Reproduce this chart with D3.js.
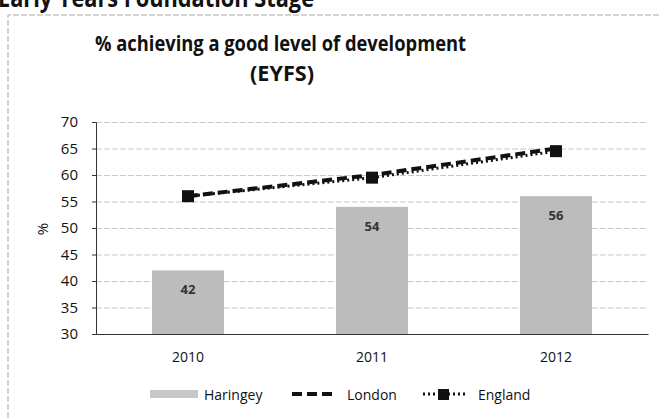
<!DOCTYPE html>
<html>
<head>
<meta charset="utf-8">
<script src="https://cdn.jsdelivr.net/npm/d3@7.9.0/dist/d3.min.js"></script>
<style>
  body { margin: 0; background: #fff; }
  svg { display: block; font-family: "Open Sans", "DejaVu Sans", sans-serif; }
</style>
</head>
<body>
<div id="chart"></div>
<script>
const years = ["2010", "2011", "2012"];
const haringey = [42, 54, 56];
const london = [56, 60, 65];
const england = [56, 59.5, 64.5];
const yTicks = [30, 35, 40, 45, 50, 55, 60, 65, 70];

const width = 661;
const height = 418;
const plot = { left: 96, right: 648, top: 122, bottom: 334 };

const svg = d3.select("#chart")
  .append("svg")
  .attr("width", width)
  .attr("height", height);

// page heading, cut off at the top of the scan
svg.append("text")
  .attr("x", -2)
  .attr("y", 7)
  .attr("font-size", 25)
  .attr("font-weight", "bold")
  .attr("fill", "#111")
  .attr("textLength", 316)
  .attr("lengthAdjust", "spacingAndGlyphs")
  .text("Early Years Foundation Stage");

// chart frame
svg.append("path")
  .attr("d", `M8,${height} V15 H${width}`)
  .attr("fill", "none")
  .attr("stroke", "#aaa")
  .attr("stroke-dasharray", "6,2");

svg.append("text")
  .attr("x", 95)
  .attr("y", 51)
  .attr("font-size", 21)
  .attr("font-weight", "bold")
  .attr("fill", "#111")
  .attr("textLength", 371)
  .attr("lengthAdjust", "spacingAndGlyphs")
  .text("% achieving a good level of development");

svg.append("text")
  .attr("x", 250)
  .attr("y", 81)
  .attr("font-size", 21)
  .attr("font-weight", "bold")
  .attr("fill", "#111")
  .attr("textLength", 64)
  .attr("lengthAdjust", "spacingAndGlyphs")
  .text("(EYFS)");

const x = d3.scaleBand()
  .domain(years)
  .range([plot.left, plot.right]);

const y = d3.scaleLinear()
  .domain([30, 70])
  .range([plot.bottom, plot.top]);

// gridlines
svg.append("g")
  .attr("transform", `translate(${plot.left},0)`)
  .call(d3.axisLeft(y).tickValues(yTicks).tickFormat("").tickSize(-(plot.right - plot.left)))
  .call(g => g.select(".domain").remove())
  .selectAll("line")
  .attr("stroke", "#c8c8c8")
  .attr("stroke-dasharray", "6,2");

// bars
svg.append("g")
  .selectAll("rect")
  .data(haringey)
  .join("rect")
  .attr("x", (d, i) => x(years[i]) + x.bandwidth() / 2 - 36)
  .attr("width", 72)
  .attr("y", d => y(d))
  .attr("height", d => y(30) - y(d))
  .attr("fill", "#bcbcbc");

svg.append("g")
  .selectAll("text")
  .data(haringey)
  .join("text")
  .attr("x", (d, i) => x(years[i]) + x.bandwidth() / 2)
  .attr("y", d => y(d) + 24)
  .attr("text-anchor", "middle")
  .attr("font-size", 13)
  .attr("font-weight", "bold")
  .attr("fill", "#333")
  .text(d => d);

// axes
const yAxis = svg.append("g")
  .attr("transform", `translate(${plot.left},0)`)
  .call(d3.axisLeft(y).tickValues(yTicks).tickSize(4).tickPadding(14));
yAxis.select(".domain").attr("stroke", "#333");
yAxis.selectAll("line").attr("stroke", "#333");
yAxis.selectAll("text").attr("font-size", 15).attr("fill", "#111")
  .attr("font-family", "'Open Sans', sans-serif");

const xAxis = svg.append("g")
  .attr("transform", `translate(0,${plot.bottom})`)
  .call(d3.axisBottom(x).tickSize(0).tickPadding(18));
xAxis.select(".domain").attr("stroke", "#333");
xAxis.selectAll("text").attr("font-size", 14).attr("fill", "#111")
  .attr("font-family", "'Open Sans', sans-serif");

svg.append("text")
  .attr("transform", "translate(48,229) rotate(-90)")
  .attr("text-anchor", "middle")
  .attr("font-size", 15)
  .attr("fill", "#111")
  .text("%");

// lines
const line = d3.line()
  .x((d, i) => x(years[i]) + x.bandwidth() / 2)
  .y(d => y(d));

svg.append("path")
  .datum(england)
  .attr("d", line)
  .attr("fill", "none")
  .attr("stroke", "#111")
  .attr("stroke-width", 3)
  .attr("stroke-dasharray", "2,3");

svg.append("path")
  .datum(london)
  .attr("d", line)
  .attr("fill", "none")
  .attr("stroke", "#111")
  .attr("stroke-width", 4)
  .attr("stroke-dasharray", "10,5");

svg.append("g")
  .selectAll("rect")
  .data(england)
  .join("rect")
  .attr("x", (d, i) => x(years[i]) + x.bandwidth() / 2 - 6)
  .attr("y", d => y(d) - 6)
  .attr("width", 12)
  .attr("height", 12)
  .attr("fill", "#111");

// legend
const legend = svg.append("g").attr("font-size", 14).attr("fill", "#111");

legend.append("rect")
  .attr("x", 150).attr("y", 390).attr("width", 48).attr("height", 8)
  .attr("fill", "#c8c8c8");
legend.append("text").attr("x", 204).attr("y", 400).text("Haringey");

legend.append("line")
  .attr("x1", 292).attr("x2", 337).attr("y1", 394).attr("y2", 394)
  .attr("stroke", "#111").attr("stroke-width", 4).attr("stroke-dasharray", "10,5");
legend.append("text").attr("x", 347).attr("y", 400).text("London");

legend.append("line")
  .attr("x1", 423).attr("x2", 466).attr("y1", 394).attr("y2", 394)
  .attr("stroke", "#111").attr("stroke-width", 3).attr("stroke-dasharray", "2,3");
legend.append("rect")
  .attr("x", 438).attr("y", 389).attr("width", 11).attr("height", 11)
  .attr("fill", "#111");
legend.append("text").attr("x", 478).attr("y", 400).text("England");
</script>
</body>
</html>
